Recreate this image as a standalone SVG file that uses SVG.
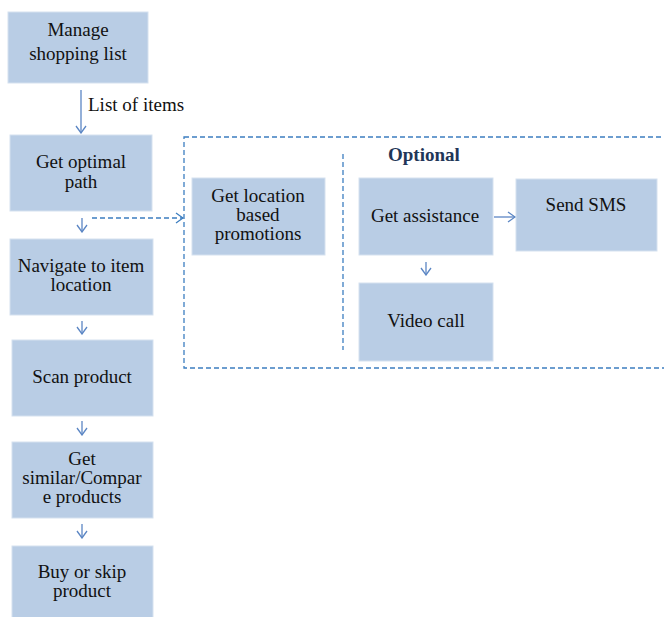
<svg xmlns="http://www.w3.org/2000/svg" width="664" height="617" viewBox="0 0 664 617">
  <style>
    .box { fill: #B9CDE5; stroke: #D5E1EF; stroke-width: 1; }
    text { font-family: "Liberation Serif", "Times New Roman", serif; font-size: 19px; fill: #111111; }
    .lbl { text-anchor: middle; }
    .title { font-weight: bold; fill: #1F3658; }
    .arrow { fill: none; stroke: #5B86C4; stroke-width: 1.3; marker-end: url(#head); }
    .dash { fill: none; stroke: #3C7EC0; stroke-width: 1.3; stroke-dasharray: 5 3; }
  </style>
  <defs>
    <marker id="head" viewBox="-8 -6 9 12" markerWidth="9" markerHeight="12" refX="0" refY="0" orient="auto" markerUnits="userSpaceOnUse">
      <path d="M-7,-5 L0,0 L-7,5" fill="none" stroke="#5B86C4" stroke-width="1.3"/>
    </marker>
    <marker id="headDash" viewBox="-8 -6 9 12" markerWidth="9" markerHeight="12" refX="0" refY="0" orient="auto" markerUnits="userSpaceOnUse">
      <path d="M-7,-5 L0,0 L-7,5" fill="none" stroke="#3C7EC0" stroke-width="1.3"/>
    </marker>
  </defs>

  <!-- optional area frame and divider -->
  <g id="optional-area">
    <rect class="dash" x="184" y="137" width="490" height="231"/>
    <line class="dash" x1="343" y1="154" x2="343" y2="350"/>
    <text class="title" x="388" y="161">Optional</text>
  </g>

  <g id="manage-list">
    <rect class="box" x="8" y="12" width="140" height="71"/>
    <text class="lbl" x="78" y="36">Manage</text>
    <text class="lbl" x="78" y="60">shopping list</text>
  </g>

  <g id="optimal-path">
    <rect class="box" x="10" y="135" width="142" height="76"/>
    <text class="lbl" x="81" y="168">Get optimal</text>
    <text class="lbl" x="81" y="188">path</text>
  </g>

  <g id="navigate">
    <rect class="box" x="10" y="239" width="143" height="76"/>
    <text class="lbl" x="81" y="272">Navigate  to item</text>
    <text class="lbl" x="81" y="291">location</text>
  </g>

  <g id="scan">
    <rect class="box" x="12" y="340" width="141" height="76"/>
    <text class="lbl" x="82" y="383">Scan product</text>
  </g>

  <g id="compare">
    <rect class="box" x="12" y="442" width="141" height="76"/>
    <text class="lbl" x="82" y="465">Get</text>
    <text class="lbl" x="82" y="484">similar/Compar</text>
    <text class="lbl" x="82" y="503">e products</text>
  </g>

  <g id="buy-skip">
    <rect class="box" x="12" y="546" width="141" height="76"/>
    <text class="lbl" x="82" y="578">Buy or skip</text>
    <text class="lbl" x="82" y="597">product</text>
  </g>

  <g id="promotions">
    <rect class="box" x="192" y="178" width="133" height="77"/>
    <text class="lbl" x="258" y="202">Get location</text>
    <text class="lbl" x="258" y="221">based</text>
    <text class="lbl" x="258" y="240">promotions</text>
  </g>

  <g id="assistance">
    <rect class="box" x="359" y="178" width="134" height="77"/>
    <text class="lbl" x="425" y="222">Get assistance</text>
  </g>

  <g id="sms">
    <rect class="box" x="516" y="179" width="141" height="72"/>
    <text class="lbl" x="586" y="211">Send SMS</text>
  </g>

  <g id="video">
    <rect class="box" x="359" y="283" width="134" height="78"/>
    <text class="lbl" x="426" y="327">Video call</text>
  </g>

  <!-- connectors -->
  <g id="connectors">
    <path class="arrow" d="M81,90 V133"/>
    <text x="88" y="111">List of items</text>
    <path class="arrow" d="M82,218 V232"/>
    <path class="arrow" d="M82,321 V334"/>
    <path class="arrow" d="M82,421 V435"/>
    <path class="arrow" d="M82,524 V538"/>
    <path class="dash" d="M92,218 H183" marker-end="url(#headDash)"/>
    <path class="arrow" d="M494,217 H515"/>
    <path class="arrow" d="M426,262 V275"/>
  </g>
</svg>
